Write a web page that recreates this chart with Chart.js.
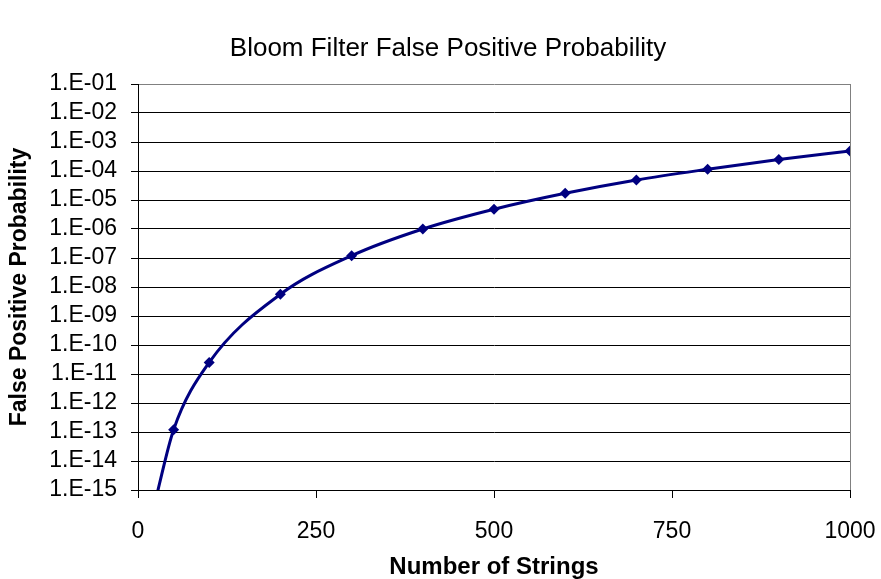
<!DOCTYPE html>
<html>
<head>
<meta charset="utf-8">
<title>Bloom Filter False Positive Probability</title>
<script src="https://cdn.jsdelivr.net/npm/chart.js@4"></script>
<style>
  body { margin: 0; background: #fff; }
  #wrap { width: 881px; height: 579px; }
</style>
</head>
<body>
<div id="wrap"><canvas id="myChart" width="881" height="579"></canvas></div>
<script>
    // number of strings inserted (x) and false positive probability (y)
    var xValues = [25, 50, 100, 200, 300, 400, 500, 600, 700, 800, 900, 1000];
    var yValues = [5e-16, 1.2e-13, 2.5e-11, 5.6e-9, 1.2e-7, 1.0e-6, 4.8e-6, 1.7e-5, 4.9e-5, 1.15e-4, 2.5e-4, 4.9e-4];

    var yTickValues = [1e-15, 1e-14, 1e-13, 1e-12, 1e-11, 1e-10, 1e-9, 1e-8, 1e-7, 1e-6, 1e-5, 1e-4, 1e-3, 1e-2, 1e-1];
    var yTickLabels = ["1.E-15", "1.E-14", "1.E-13", "1.E-12", "1.E-11", "1.E-10", "1.E-09", "1.E-08",
                       "1.E-07", "1.E-06", "1.E-05", "1.E-04", "1.E-03", "1.E-02", "1.E-01"];
    var xTickValues = [0, 250, 500, 750, 1000];
    var xTickLabels = ["0", "250", "500", "750", "1000"];

    var points = [];
    for (var i = 0; i < xValues.length; i++) {
        points.push({x: xValues[i], y: yValues[i]});
    }
    // the first point sits below the axis, only the curve runs through it
    var radii = xValues.map(function (v, i) { return i === 0 ? 0 : 5.5; });

    var fam = "'Liberation Sans', Arial, sans-serif";
    var lineColor = "#000080";

    new Chart("myChart", {
      type: "line",
      data: {
        datasets: [{
          data: points,
          borderColor: lineColor,
          backgroundColor: lineColor,
          borderWidth: 3,
          cubicInterpolationMode: "monotone",
          pointStyle: "rectRot",
          pointRadius: radii,
          pointBorderWidth: 0,
          pointBackgroundColor: lineColor,
          fill: false
        }]
      },
      options: {
        responsive: false,
        animation: false,
        devicePixelRatio: 1,
        // left padding pushes the title centre to the right, the y scale takes it back
        layout: { padding: { left: 46, right: 31, top: 0, bottom: 0 } },
        plugins: {
          legend: { display: false },
          tooltip: { enabled: false },
          title: {
            display: true,
            text: "Bloom Filter False Positive Probability",
            color: "#000",
            font: { family: fam, size: 26, weight: "normal", lineHeight: 1.2 },
            padding: { top: 33, bottom: 19.8 }
          }
        },
        scales: {
          x: {
            type: "linear",
            min: 0,
            max: 1000,
            afterBuildTicks: function (s) {
              s.ticks = xTickValues.map(function (v) { return {value: v}; });
            },
            afterFit: function (s) {
              s.height = 89;
              s.paddingLeft = 0;
              s.paddingRight = 0;
            },
            ticks: {
              color: "#000",
              font: { family: fam, size: 23 },
              padding: 20,
              maxRotation: 0,
              autoSkip: false,
              callback: function (value) {
                var idx = xTickValues.indexOf(value);
                return idx >= 0 ? xTickLabels[idx] : "";
              }
            },
            grid: {
              drawOnChartArea: true,
              tickLength: 8,
              tickColor: "#000",
              color: function (ctx) {
                return ctx.tick && ctx.tick.value === 1000 ? "#808080" : "rgba(0,0,0,0)";
              },
              lineWidth: 1
            },
            border: { color: "#000", width: 1 },
            title: {
              display: true,
              text: "Number of Strings",
              color: "#000",
              font: { family: fam, size: 24, weight: "bold", lineHeight: 1 },
              padding: { top: 0, bottom: 0 }
            }
          },
          y: {
            type: "logarithmic",
            min: 1e-15,
            max: 1e-1,
            afterBuildTicks: function (s) {
              s.ticks = yTickValues.map(function (v) { return {value: v}; });
            },
            afterFit: function (s) {
              s.width = 92;
              s.paddingTop = 0;
              s.paddingBottom = 0;
            },
            ticks: {
              color: "#000",
              font: { family: fam, size: 23 },
              padding: 14,
              autoSkip: false,
              callback: function (value) {
                var idx = yTickValues.indexOf(value);
                return idx >= 0 ? yTickLabels[idx] : "";
              }
            },
            grid: {
              tickLength: 7,
              tickColor: "#000",
              color: function (ctx) {
                return ctx.tick && ctx.tick.value === 1e-1 ? "#808080" : "#000";
              },
              lineWidth: 1
            },
            border: { color: "#000", width: 1 },
            title: {
              display: true,
              text: "False Positive Probability",
              color: "#000",
              font: { family: fam, size: 23, weight: "bold", lineHeight: 1.2 },
              padding: { top: -40, bottom: 0 }
            }
          }
        }
      }
    });
</script>
</body>
</html>
